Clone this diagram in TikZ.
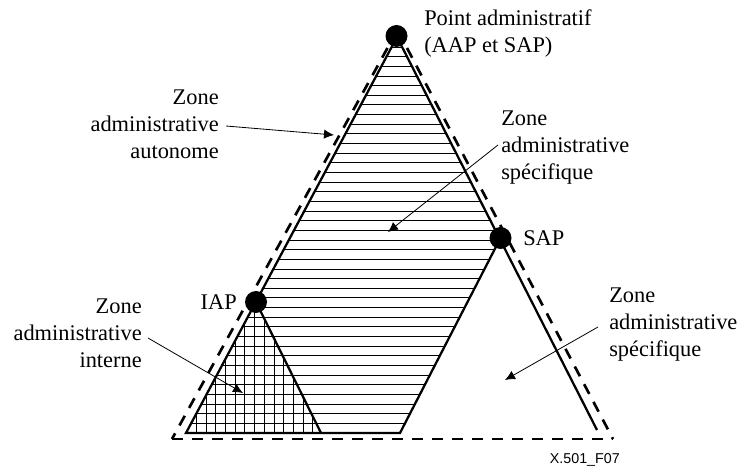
\documentclass[tikz,border=0pt]{standalone}
\usepackage{fontspec}
\setmainfont{Liberation Serif}
\setsansfont{Liberation Sans}
\usetikzlibrary{arrows.meta}
\begin{document}
\begin{tikzpicture}[x=0.75pt,y=-0.75pt,
  lbl/.style={inner sep=0pt,font=\fontsize{16.8}{20.25}\selectfont},
  edge/.style={line width=1.7pt,line join=miter},
  border/.style={line width=2pt,dash pattern=on 8.25pt off 6.75pt},
  hatch/.style={line width=0.6pt},
  pointer/.style={line width=0.6pt,-{Latex[length=7.5pt,width=7pt]}},
  dot/.style={circle,fill=black,inner sep=0pt,minimum size=16.5pt}]
\useasboundingbox (0,0) rectangle (740,466);

% corner points of the zones
\coordinate (apex) at (397,37);
\coordinate (bl) at (186,433);
\coordinate (br) at (597,430);
\coordinate (iap) at (256,302);
\coordinate (sap) at (500.5,238);
\coordinate (ibr) at (321,433);
\coordinate (sbr) at (400,433);

% horizontal hatching of the specific zone (and the inner zone)
\begin{scope}
  \clip (apex) -- (bl) -- (sbr) -- (sap) -- cycle;
  \foreach \k in {1,...,41}
    \draw[hatch] (150,433-9.65*\k) -- (600,433-9.65*\k);
\end{scope}
% vertical hatching of the inner zone
\begin{scope}
  \clip (iap) -- (bl) -- (ibr) -- cycle;
  \foreach \k in {-8,...,8}
    \draw[hatch] (254.5+9.7*\k,290) -- (254.5+9.7*\k,440);
\end{scope}

% zone boundaries
\draw[edge] (apex) -- (bl) -- (sbr) -- (sap);
\draw[edge] (apex) -- (br);
\draw[edge] (iap) -- (ibr);

% autonomous zone (dashed)
\coordinate (dlt) at (387.5,48);
\coordinate (drt) at (407,48);
\coordinate (dbl) at (172,439);
\coordinate (dbr) at (613,439);
\draw[border] (dlt) -- (dbl);
\draw[border] (drt) -- (dbr);
\draw[border] (dbl) -- (dbr);

% administrative points
\node[dot] (apexdot) at (396.5,36) {};
\node[dot] (sapdot) at (sap) {};
\node[dot] (iapdot) at (iap) {};

% labels (base anchor = baseline of the last line)
\node[lbl,anchor=base west,align=left] (pointlbl) at (424,53)
  {Point administratif\\(AAP et SAP)};
\node[lbl,anchor=base west] (saplbl) at (523,246) {SAP};
\node[lbl,anchor=base east] (iaplbl) at (237,310) {IAP};
\node[lbl,anchor=base east,align=right] (autolbl) at (219,159)
  {Zone\\administrative\\autonome};
\node[lbl,anchor=base west,align=left] (speclbl) at (501,180)
  {Zone\\administrative\\spécifique};
\node[lbl,anchor=base east,align=right] (intlbl) at (142,368)
  {Zone\\administrative\\interne};
\node[lbl,anchor=base west,align=left] (spec2lbl) at (609,357)
  {Zone\\administrative\\spécifique};
\node[inner sep=0pt,anchor=base east,font=\sffamily\fontsize{10.7}{12}\selectfont]
  (figno) at (620,464) {X.501\_F07};

% pointers
\coordinate (a1) at (226,126); \coordinate (t1) at (334,135);
\coordinate (a2) at (498,145); \coordinate (t2) at (388,232);
\coordinate (a3) at (148,338); \coordinate (t3) at (243,393);
\coordinate (a4) at (598,327); \coordinate (t4) at (505,380);
\draw[pointer] (a1) -- (t1);
\draw[pointer] (a2) -- (t2);
\draw[pointer] (a3) -- (t3);
\draw[pointer] (a4) -- (t4);
\end{tikzpicture}
\end{document}
